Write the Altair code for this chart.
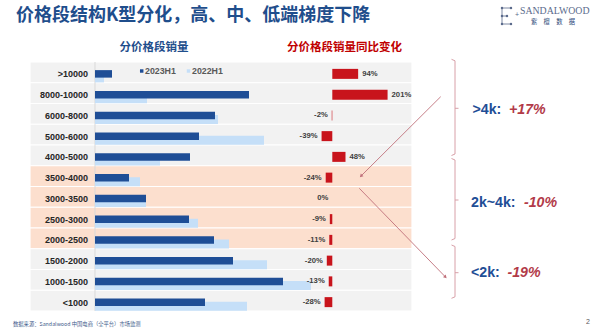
import altair as alt
import pandas as pd

cats = [">10000", "8000-10000", "6000-8000", "5000-6000", "4000-5000",
        "3500-4000", "3000-3500", "2500-3000", "2000-2500",
        "1500-2000", "1000-1500", "<1000"]
sales_2023 = [17, 154, 120, 104, 95, 34, 51, 94, 119, 138, 188, 110]
sales_2022 = [9, 52, 123, 169, 65, 45, 51, 103, 134, 172, 216, 152]
yoy_change = [94, 201, -2, -39, 48, -24, 0, -9, -11, -20, -13, -28]
band_group = ["high"] * 5 + ["mid"] * 4 + ["low"] * 3

df = pd.DataFrame({
    "cat": cats, "v23": sales_2023, "v22": sales_2022,
    "chg": yoy_change, "grp": band_group,
})
df["lbl"] = [f"{v}%" for v in yoy_change]

one = pd.DataFrame({"k": [0]})

Y = alt.Y("cat:N", sort=cats, axis=None,
          scale=alt.Scale(domain=cats, range=[62, 311], paddingInner=0, paddingOuter=0))

CJK = "Noto Sans CJK SC"
LAT = "Liberation Sans"
BLUE = "#1F4E96"
LIGHT = "#C5DFF8"
RED = "#C8141C"

base = alt.Chart(df)

bg = base.mark_rect(stroke="white", strokeWidth=1.2).encode(
    y=Y, x=alt.value(30), x2=alt.value(412),
    color=alt.Color("grp:N", legend=None,
                    scale=alt.Scale(domain=["high", "mid", "low"],
                                    range=["#F2F2F2", "#FCDFCE", "#F2F2F2"])))

axis_line = alt.Chart(one).mark_rule(color="#D9D9D9", strokeWidth=1).encode(
    x=alt.value(95), y=alt.value(62), y2=alt.value(311))

XL = alt.Scale(domain=[0, 100], range=[95, 195])
bar22 = base.mark_bar(color=LIGHT, size=9, yOffset=5.5).encode(
    y=Y, x=alt.X("v22:Q", scale=XL, axis=None))
bar23 = base.mark_bar(color=BLUE, size=7.5, yOffset=1.5).encode(
    y=Y, x=alt.X("v23:Q", scale=XL, axis=None))

cat_lbl = base.mark_text(align="right", baseline="middle", font=LAT, fontWeight="bold",
                         fontSize=9, color="#262626", yOffset=2).encode(
    y=Y, x=alt.value(88), text="cat:N")

XR = alt.Scale(domain=[-100, 250], range=[304.8, 401.05])
red = base.mark_bar(color=RED, size=10, yOffset=1.5).encode(
    y=Y, x=alt.X("chg:Q", scale=XR, axis=None))
pos_lbl = base.transform_filter("datum.chg > 0").mark_text(
    align="left", baseline="middle", dx=4, yOffset=1.5, font=LAT, fontWeight="bold",
    fontSize=7.7, color="#404040").encode(
    y=Y, x=alt.X("chg:Q", scale=XR, axis=None), text="lbl:N")
neg_lbl = base.transform_filter("datum.chg <= 0").mark_text(
    align="right", baseline="middle", dx=-4, yOffset=1.5, font=LAT, fontWeight="bold",
    fontSize=7.7, color="#404040").encode(
    y=Y, x=alt.X("chg:Q", scale=XR, axis=None), text="lbl:N")


def txt(s, x, y, size, color, align="left", weight="normal", font=CJK, style="normal"):
    return alt.Chart(one).mark_text(
        text=s, align=align, baseline="middle", fontSize=size, color=color,
        fontWeight=weight, font=font, fontStyle=style).encode(
        x=alt.value(x), y=alt.value(y))


def rule(x1, y1, x2, y2, color, w=1):
    return alt.Chart(one).mark_rule(color=color, strokeWidth=w).encode(
        x=alt.value(x1), y=alt.value(y1), x2=alt.value(x2), y2=alt.value(y2))


title = txt("价格段结构K型分化，高、中、低端梯度下降", 16, 16, 18, "#1F4E8C", weight="bold")
t_left = txt("分价格段销量", 154, 48, 11.5, "#1F4E8C", align="center", weight="bold")
t_right = txt("分价格段销量同比变化", 344.5, 48, 11.5, "#C00000", align="center", weight="bold")

# legend
leg = [
    alt.Chart(one).mark_square(color=BLUE, size=12, opacity=1).encode(
        x=alt.value(141.7), y=alt.value(71)),
    txt("2023H1", 145, 71, 8.8, "#595959", weight="bold", font=LAT),
    alt.Chart(one).mark_square(color=LIGHT, size=12, opacity=1).encode(
        x=alt.value(188.5), y=alt.value(71)),
    txt("2022H1", 192, 71, 8.8, "#595959", weight="bold", font=LAT),
]

# logo
LOGO = "#5B6B8C"
logo = [
    rule(502, 8, 511, 8, LOGO, 0.8), rule(502, 8, 502, 24, LOGO, 0.8),
    rule(502, 24, 511, 24, LOGO, 0.8), rule(502, 16, 507, 16, LOGO, 0.8),
    alt.Chart(pd.DataFrame({"px": [502, 511, 502, 507, 502, 511],
                            "py": [8, 8, 16, 16, 24, 24]})).mark_circle(
        color=LOGO, size=6, opacity=1).encode(
        x=alt.X("px:Q", scale=alt.Scale(domain=[0, 600], range=[0, 600]), axis=None),
        y=alt.Y("py:Q", scale=alt.Scale(domain=[0, 334], range=[0, 334]), axis=None)),
    txt("+", 515, 15, 7, LOGO, font=LAT),
    txt("SANDALWOOD", 520, 10.5, 9.8, LOGO, font="Liberation Serif"),
    txt("紫　檀　数　据", 531, 21.5, 6.3, "#2E4A7A"),
]

# arrows
ARC = "#C0707A"
arrows = [
    rule(440.7, 96.7, 360.5, 176.5, ARC, 0.9),
    alt.Chart(one).mark_point(shape="triangle-up", angle=225, filled=True, size=14,
                              color=ARC, opacity=1).encode(x=alt.value(361), y=alt.value(176)),
    rule(359.3, 188.3, 445.5, 277, ARC, 0.9),
    alt.Chart(one).mark_point(shape="triangle-up", angle=135, filled=True, size=14,
                              color=ARC, opacity=1).encode(x=alt.value(445.5), y=alt.value(277)),
]

# braces
BRC = "#D8A0A8"
braces = []
for (ya, ym, yb) in [(59.3, 108.3, 155.5), (158.5, 200, 240), (245, 272.7, 298.3)]:
    braces += [
        rule(451.5, ya, 455, ya + 1.5, BRC, 1),
        rule(455, ya + 1.5, 455, yb - 1.5, BRC, 1),
        rule(455, yb - 1.5, 451.5, yb, BRC, 1),
        rule(455, ym, 458.5, ym, BRC, 1),
    ]

SB = "#1F4E96"
SR = "#B23A48"
summary = [
    txt(">4k:", 472.5, 110, 14.2, SB, weight="bold", font=LAT),
    txt("+17%", 509, 110, 14.2, SR, weight="bold", font=LAT, style="italic"),
    txt("2k~4k:", 471, 202.7, 14.2, SB, weight="bold", font=LAT),
    txt("-10%", 524, 202.7, 14.2, SR, weight="bold", font=LAT, style="italic"),
    txt("<2k:", 471, 273.3, 14.2, SB, weight="bold", font=LAT),
    txt("-19%", 507.5, 273.3, 14.2, SR, weight="bold", font=LAT, style="italic"),
]

footer = [
    txt("数据来源：Sandalwood 中国电商（全平台）市场监测", 13, 324, 5.3, "#3D5A8A"),
    txt("2", 586, 322, 7, "#595959", font=LAT),
]

chart = alt.layer(
    bg, axis_line, bar22, bar23, cat_lbl, red, pos_lbl, neg_lbl,
    title, t_left, t_right, *leg, *logo, *arrows, *braces, *summary, *footer
).resolve_scale(x="independent", y="independent").properties(
    width=600, height=334, padding=0,
    autosize=alt.AutoSizeParams(type="none"),
    background="white",
).configure_view(stroke=None)

chart.save("out.html", embed_options={"renderer": "svg", "actions": False})
